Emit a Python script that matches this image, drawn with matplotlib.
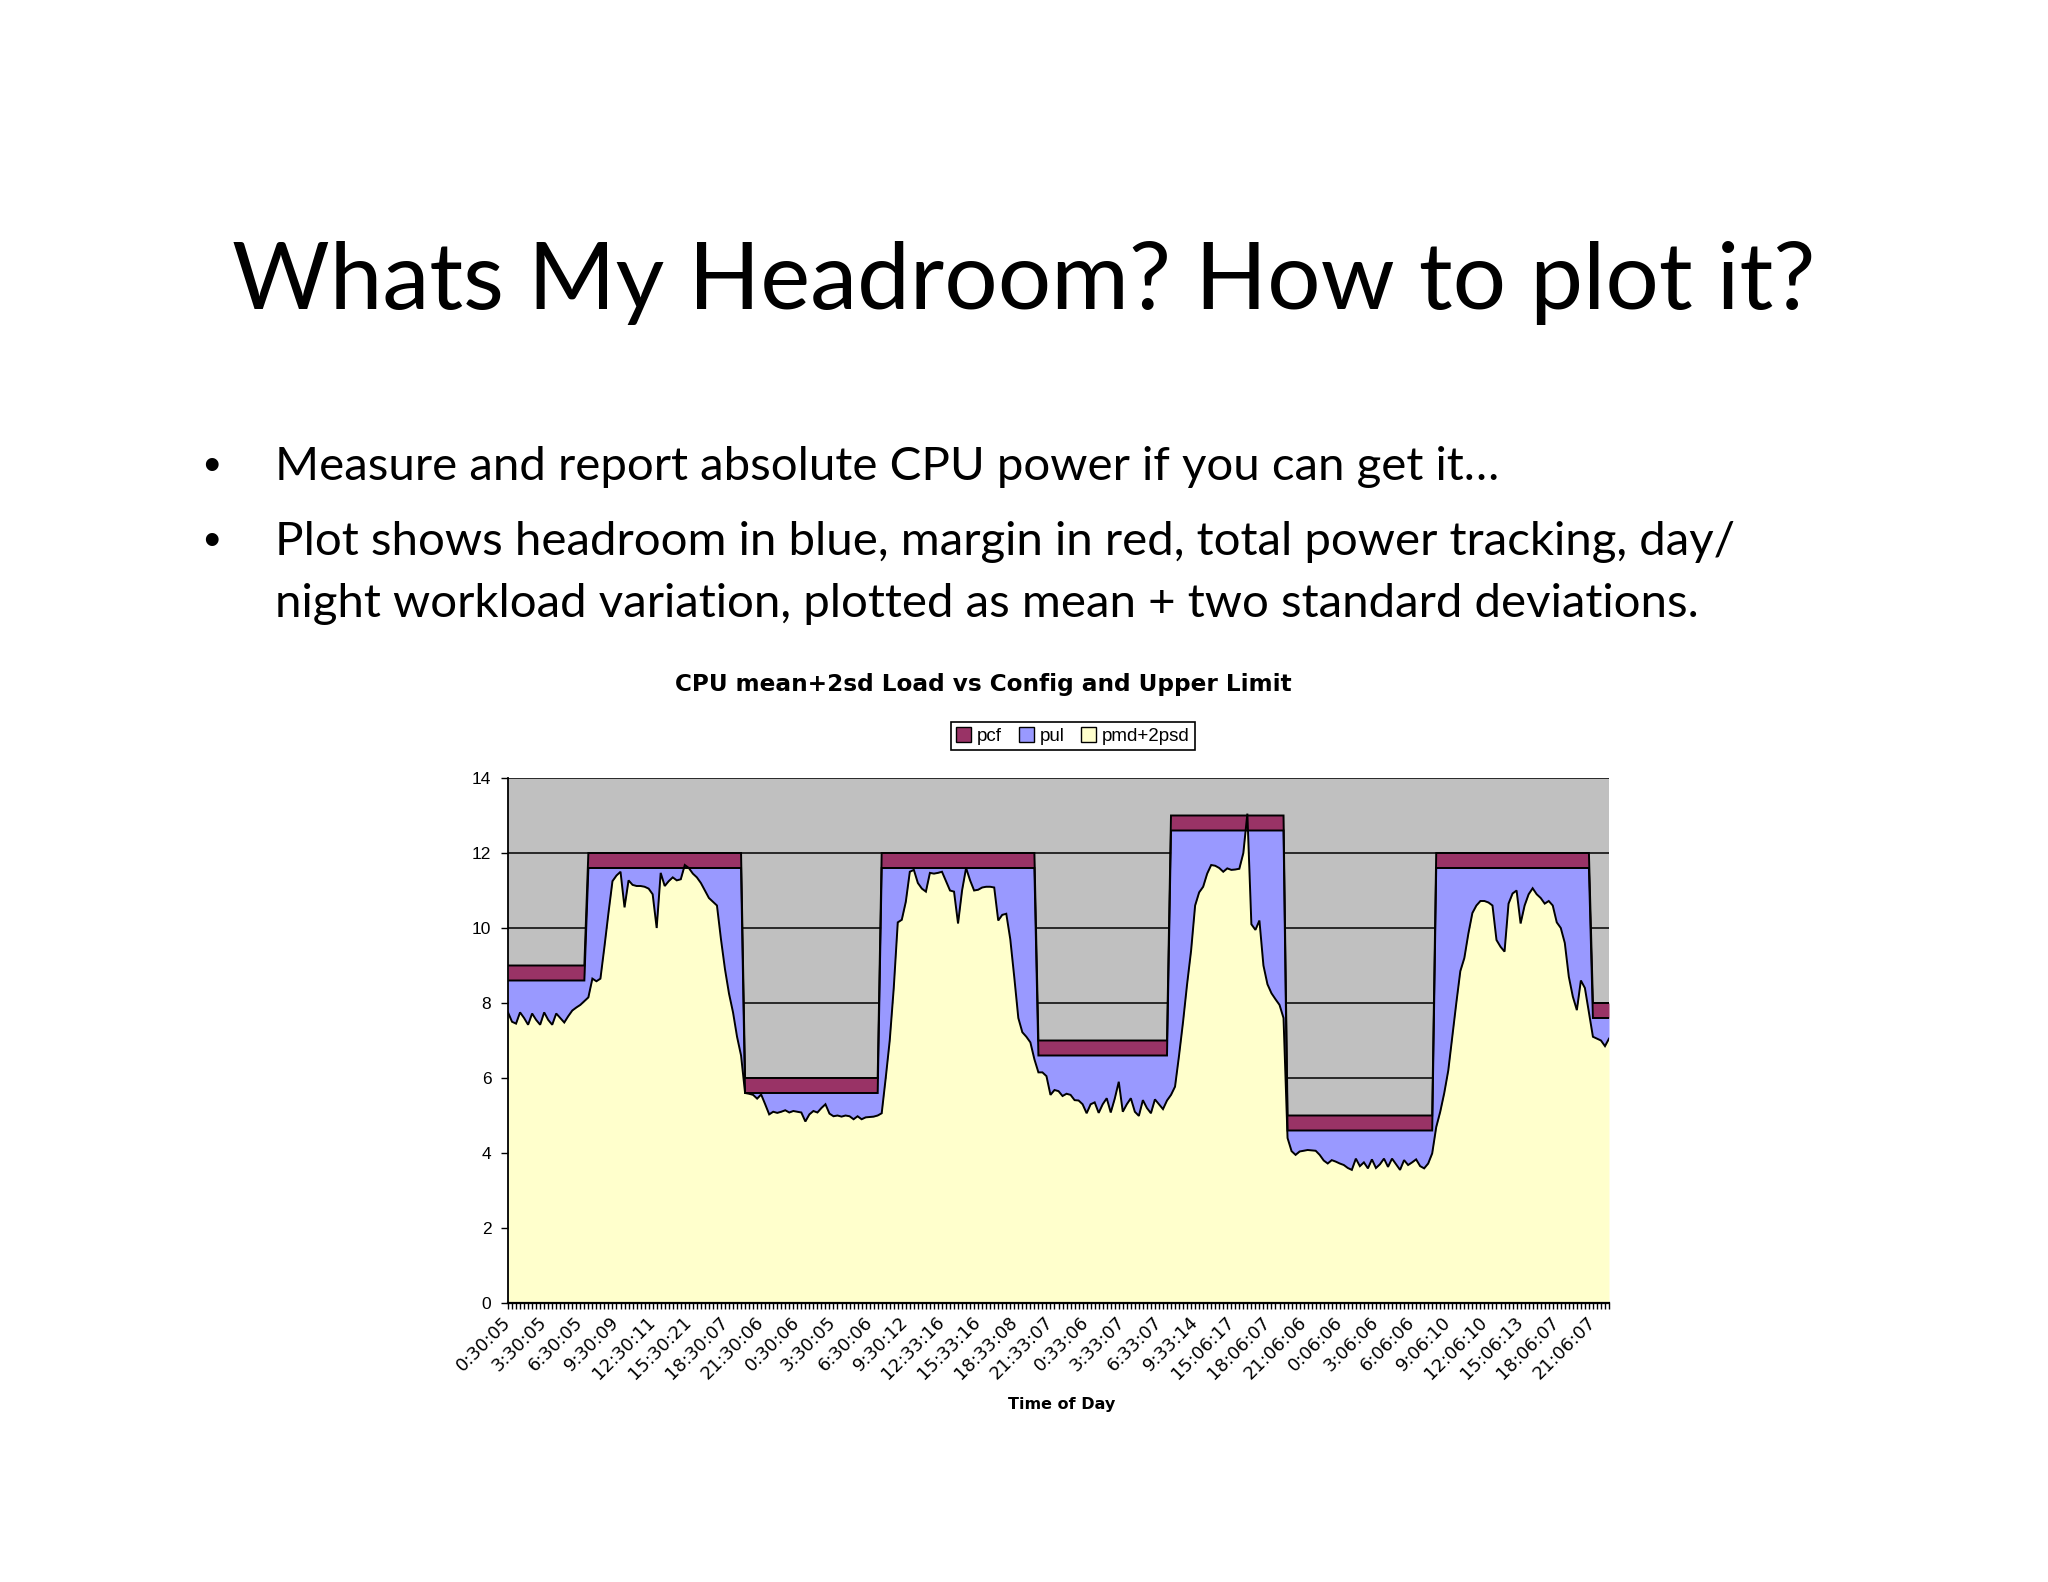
import numpy as np
import matplotlib
matplotlib.use("Agg")
import matplotlib.pyplot as plt
from matplotlib.patches import Patch

# ---------------- data ----------------
time_labels = ["0:30:05", "3:30:05", "6:30:05", "9:30:09", "12:30:11", "15:30:21",
               "18:30:07", "21:30:06", "0:30:06", "3:30:05", "6:30:06", "9:30:12",
               "12:33:16", "15:33:16", "18:33:08", "21:33:07", "0:33:06", "3:33:07",
               "6:33:07", "9:33:14", "15:06:17", "18:06:07", "21:06:06", "0:06:06",
               "3:06:06", "6:06:06", "9:06:10", "12:06:10", "15:06:13", "18:06:07",
               "21:06:07"]
label_every = 9  # samples every 20 minutes, one label per 3 hours

# configured capacity (top of red band), step segments
config_levels = [9, 12, 6, 12, 7, 13, 5, 12, 8]
config_last_index = [19, 58, 92, 131, 164, 193, 230, 269, 274]
pcf_band = [0.4, 0.4, 0.4, 0.4, 0.4, 0.4, 0.4, 0.4, 0.4]

# mean + 2 sd load
pmd_2psd = [
    7.75, 7.5, 7.45, 7.75, 7.6, 7.42, 7.72, 7.55, 7.42, 7.75,
    7.55, 7.42, 7.72, 7.6, 7.48, 7.65, 7.8, 7.88, 7.95, 8.05,
    8.15, 8.65, 8.58, 8.65, 9.5, 10.4, 11.25, 11.4, 11.5, 10.55,
    11.27, 11.15, 11.12, 11.12, 11.1, 11.05, 10.9, 10.0, 11.47, 11.12,
    11.25, 11.35, 11.27, 11.3, 11.68, 11.6, 11.45, 11.35, 11.2, 11.0,
    10.8, 10.7, 10.6, 9.7, 8.9, 8.25, 7.75, 7.1, 6.6, 5.6,
    5.58, 5.55, 5.45, 5.56, 5.3, 5.03, 5.1, 5.07, 5.1, 5.14,
    5.08, 5.12, 5.1, 5.08, 4.84, 5.03, 5.12, 5.08, 5.2, 5.3,
    5.05, 4.98, 5.0, 4.97, 5.0, 4.98, 4.9, 4.98, 4.9, 4.95,
    4.96, 4.97, 5.0, 5.06, 6.0, 7.0, 8.4, 10.15, 10.22, 10.7,
    11.5, 11.55, 11.2, 11.05, 10.97, 11.47, 11.45, 11.47, 11.5, 11.25,
    11.0, 10.97, 10.12, 11.0, 11.6, 11.27, 11.0, 11.02, 11.08, 11.1,
    11.1, 11.08, 10.2, 10.35, 10.38, 9.7, 8.68, 7.6, 7.22, 7.1,
    6.95, 6.5, 6.15, 6.15, 6.05, 5.55, 5.68, 5.65, 5.52, 5.58,
    5.55, 5.41, 5.4, 5.3, 5.06, 5.3, 5.35, 5.07, 5.3, 5.46,
    5.08, 5.45, 5.9, 5.1, 5.3, 5.46, 5.1, 4.99, 5.41, 5.2,
    5.06, 5.43, 5.3, 5.17, 5.4, 5.55, 5.77, 6.6, 7.5, 8.5,
    9.4, 10.6, 10.95, 11.1, 11.45, 11.68, 11.66, 11.6, 11.5, 11.59,
    11.55, 11.56, 11.58, 12.0, 13.05, 10.1, 9.95, 10.2, 9.0, 8.5,
    8.26, 8.1, 7.95, 7.6, 4.4, 4.05, 3.95, 4.04, 4.06, 4.08,
    4.07, 4.06, 3.95, 3.8, 3.72, 3.81, 3.77, 3.72, 3.68, 3.6,
    3.55, 3.85, 3.65, 3.75, 3.59, 3.83, 3.6, 3.7, 3.85, 3.63,
    3.85, 3.7, 3.55, 3.81, 3.68, 3.75, 3.83, 3.65, 3.59, 3.72,
    3.99, 4.69, 5.1, 5.6, 6.2, 7.1, 8.0, 8.85, 9.2, 9.85,
    10.4, 10.6, 10.72, 10.72, 10.68, 10.6, 9.68, 9.5, 9.37, 10.65,
    10.92, 11.0, 10.12, 10.6, 10.9, 11.06, 10.9, 10.8, 10.65, 10.72,
    10.6, 10.15, 10.0, 9.6, 8.7, 8.17, 7.81, 8.6, 8.4, 7.75,
    7.1, 7.05, 7.0, 6.85, 7.05,
]

series_names = ["pcf", "pul", "pmd+2psd"]
series_colors = ["#993366", "#9999FF", "#FFFFCC"]

slide_title = "Whats My Headroom? How to plot it?"
bullets = ["Measure and report absolute CPU power if you can get it\u2026",
           "Plot shows headroom in blue, margin in red, total power tracking, day/",
           "night workload variation, plotted as mean + two standard deviations."]
chart_title = "CPU mean+2sd Load vs Config and Upper Limit"
x_title = "Time of Day"

# ---------------- derived series ----------------
pmd = np.array(pmd_2psd, dtype=float)
n = len(pmd)
counts = np.diff([-1] + config_last_index)
config = np.repeat(config_levels, counts).astype(float)
pcf = np.repeat(pcf_band, counts).astype(float)
limit = config - pcf
pul = limit - pmd
x = np.arange(n)

W, H = 2048, 1582
fig = plt.figure(figsize=(W / 100, H / 100), dpi=100, facecolor="white")

def fx(px):
    return px / W

def fy(py):
    return 1 - py / H

ax = fig.add_axes([fx(508), fy(1303), (1609 - 508) / W, (1303 - 778) / H])
ax.set_facecolor("#C0C0C0")

y1 = pmd
y2 = pmd + pul
y3 = y2 + pcf
ax.fill_between(x, 0, y1, color=series_colors[2], lw=0, zorder=2)
ax.fill_between(x, y1, y2, color=series_colors[1], lw=0, zorder=2.1)
ax.fill_between(x, y2, y3, color=series_colors[0], lw=0, zorder=2.2)
for yy in (y1, y2, y3):
    ax.plot(x, yy, color="black", lw=1.4, zorder=3, solid_joinstyle="miter")

ax.set_xlim(0, n - 1)
ax.set_ylim(0, 14)
ax.set_yticks(np.arange(0, 15, 2))
ax.set_axisbelow(True)
ax.yaxis.grid(True, color="black", lw=1.1)
for s in ("top", "right"):
    ax.spines[s].set_visible(False)
ax.spines["left"].set_linewidth(1.3)
ax.spines["bottom"].set_linewidth(1.6)
ax.spines["left"].set_zorder(4)
ax.spines["bottom"].set_zorder(4)

ax.set_xticks(x)
ax.set_xticklabels([time_labels[k // label_every] if k % label_every == 0 else ""
                    for k in x],
                   rotation=45, ha="right", va="center", rotation_mode="anchor",
                   fontsize=13, family="DejaVu Sans")
ax.tick_params(axis="x", length=4, width=1.0, direction="out", pad=8)
ax.tick_params(axis="y", length=5, width=1.0, direction="out", pad=7,
               labelsize=12.5)
for t in ax.get_yticklabels():
    t.set_family("Liberation Sans")

fig.text(fx(1062), fy(1405), x_title, ha="center", va="center",
         fontsize=11.5, fontweight="bold", family="DejaVu Sans")

ct = fig.text(fx(983), fy(685), chart_title, ha="center", va="center",
              fontsize=16, fontweight="bold", family="DejaVu Sans")

handles = [Patch(facecolor=c, edgecolor="black", lw=1.0) for c in series_colors]
leg = fig.legend(handles, series_names, ncol=3, loc="center",
                 bbox_to_anchor=(fx(1073), fy(736)), frameon=True,
                 fancybox=False, edgecolor="black", framealpha=1,
                 handlelength=0.8, handleheight=0.8, handletextpad=0.3,
                 columnspacing=0.9, borderpad=0.3,
                 prop={"family": "Liberation Sans", "size": 13.5})
leg.get_frame().set_linewidth(1.2)

# slide text
tt = fig.text(fx(1024), fy(309), slide_title, ha="center", va="baseline",
              fontsize=75, family="Lato")
b_y = [480, 555, 617]
btexts = []
for i, line in enumerate(bullets):
    t = fig.text(fx(275), fy(b_y[i]), line, ha="left", va="baseline",
                 fontsize=38, family="Lato")
    btexts.append(t)
for i in (0, 1):
    fig.text(fx(203), fy(b_y[i]), "\u2022", ha="left", va="baseline",
             fontsize=34, family="Liberation Sans")

# fit text widths to the reference layout
fig.canvas.draw()
r = fig.canvas.get_renderer()

def fit(t, target):
    w = t.get_window_extent(r).width
    t.set_fontsize(t.get_fontsize() * target / w)

fit(tt, 1584)
fit(ct, 617)
fit(btexts[0], 1223)
for t in btexts[1:]:
    t.set_fontsize(btexts[0].get_fontsize())

fig.savefig("out.png", dpi=100, facecolor="white")
